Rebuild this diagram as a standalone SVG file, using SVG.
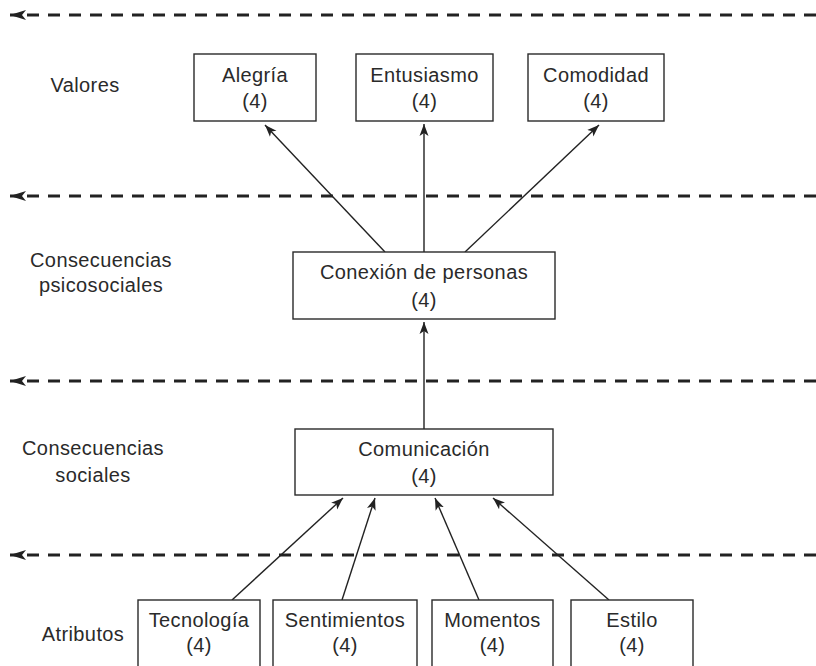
<svg xmlns="http://www.w3.org/2000/svg" width="816" height="666" viewBox="0 0 816 666">
<style>
.bg{fill:#fff}
.box{fill:#fff;stroke:#2a2a2a;stroke-width:1.4}
text{font-family:"Liberation Sans",Arial,sans-serif;font-size:20px;letter-spacing:0.4px;fill:#2a2a2a}
.c{text-anchor:middle}
.lvl{stroke:#222;stroke-width:3;stroke-dasharray:12 9;fill:none}
.con{stroke:#222;stroke-width:1.4;fill:none}
</style>
<defs>
<marker id="big" markerUnits="userSpaceOnUse" markerWidth="18" markerHeight="12" refX="16" refY="6" orient="auto">
<path d="M0,1 L16,6 L0,11 L4,6 z" fill="#222"/>
</marker>
<marker id="ah" markerUnits="userSpaceOnUse" markerWidth="14" markerHeight="10" refX="12" refY="5" orient="auto">
<path d="M0,0.5 L12,5 L0,9.5 L3,5 z" fill="#222"/>
</marker>
</defs>
<rect class="bg" width="816" height="666"/>

<g id="levels">
<line class="lvl" x1="816" y1="15" x2="10" y2="15" marker-end="url(#big)"/>
<line class="lvl" x1="816" y1="196" x2="10" y2="196" marker-end="url(#big)"/>
<line class="lvl" x1="816" y1="381" x2="10" y2="381" marker-end="url(#big)"/>
<line class="lvl" x1="816" y1="555" x2="10" y2="555" marker-end="url(#big)"/>
</g>

<g id="level-labels">
<text class="c" x="85" y="92">Valores</text>
<text class="c" x="101" y="267">Consecuencias</text>
<text class="c" x="101" y="292">psicosociales</text>
<text class="c" x="93" y="455">Consecuencias</text>
<text class="c" x="93" y="482">sociales</text>
<text class="c" x="83" y="641">Atributos</text>
</g>

<g id="connectors">
<line class="con" x1="385" y1="252" x2="265" y2="125" marker-end="url(#ah)"/>
<line class="con" x1="424" y1="252" x2="424" y2="124" marker-end="url(#ah)"/>
<line class="con" x1="465" y1="252" x2="599" y2="125" marker-end="url(#ah)"/>
<line class="con" x1="424" y1="429" x2="424" y2="322" marker-end="url(#ah)"/>
<line class="con" x1="232" y1="600" x2="343" y2="498" marker-end="url(#ah)"/>
<line class="con" x1="342" y1="600" x2="375" y2="498" marker-end="url(#ah)"/>
<line class="con" x1="479" y1="600" x2="435" y2="498" marker-end="url(#ah)"/>
<line class="con" x1="609" y1="600" x2="493" y2="498" marker-end="url(#ah)"/>
</g>

<g id="alegria">
<rect class="box" x="194" y="54" width="122" height="67"/>
<text class="c" x="255" y="82">Alegría</text>
<text class="c" x="255" y="108">(4)</text>
</g>
<g id="entusiasmo">
<rect class="box" x="356" y="54" width="137" height="67"/>
<text class="c" x="424.5" y="82">Entusiasmo</text>
<text class="c" x="424.5" y="108">(4)</text>
</g>
<g id="comodidad">
<rect class="box" x="528" y="54" width="136" height="67"/>
<text class="c" x="596" y="82">Comodidad</text>
<text class="c" x="596" y="108">(4)</text>
</g>
<g id="conexion">
<rect class="box" x="293" y="252" width="262" height="67"/>
<text class="c" x="424" y="279">Conexión de personas</text>
<text class="c" x="424" y="307">(4)</text>
</g>
<g id="comunicacion">
<rect class="box" x="295" y="429" width="258" height="66"/>
<text class="c" x="424" y="456">Comunicación</text>
<text class="c" x="424" y="483">(4)</text>
</g>
<g id="tecnologia">
<rect class="box" x="138" y="600" width="122" height="80"/>
<text class="c" x="199" y="627">Tecnología</text>
<text class="c" x="199" y="652">(4)</text>
</g>
<g id="sentimientos">
<rect class="box" x="273" y="600" width="144" height="80"/>
<text class="c" x="345" y="627">Sentimientos</text>
<text class="c" x="345" y="652">(4)</text>
</g>
<g id="momentos">
<rect class="box" x="432" y="600" width="121" height="80"/>
<text class="c" x="492.5" y="627">Momentos</text>
<text class="c" x="492.5" y="652">(4)</text>
</g>
<g id="estilo">
<rect class="box" x="571" y="600" width="122" height="80"/>
<text class="c" x="632" y="627">Estilo</text>
<text class="c" x="632" y="652">(4)</text>
</g>
</svg>
